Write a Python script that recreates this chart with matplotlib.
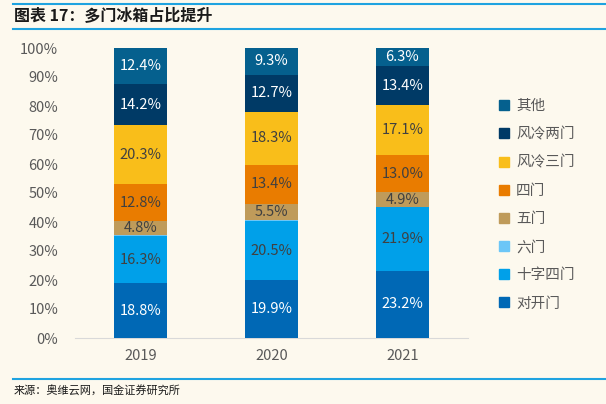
import numpy as np
import matplotlib
matplotlib.use('Agg')
from matplotlib import pyplot as plt
from matplotlib.lines import Line2D

plt.rcParams['font.family'] = ['Noto Sans CJK SC', 'DejaVu Sans']

years = ['2019', '2020', '2021']
# 从下到上
names = ['对开门', '十字四门', '六门', '五门', '四门', '风冷三门', '风冷两门', '其他']
duikai = [18.8, 19.9, 23.2]
shizi = [16.3, 20.5, 21.9]
liumen = [0.4, 0.4, 0.2]
wumen = [4.8, 5.5, 4.9]
simen = [12.8, 13.4, 13.0]
sanmen = [20.3, 18.3, 17.1]
liangmen = [14.2, 12.7, 13.4]
qita = [12.4, 9.3, 6.3]

series = [duikai, shizi, liumen, wumen, simen, sanmen, liangmen, qita]
colors = ['#0068B5', '#00A0E9', '#6CC6F7', '#BF9B5A', '#E97C00', '#F9BE1A', '#003A66', '#05608E']
txt_colors = ['white', '#404040', None, '#404040', '#404040', '#404040', 'white', 'white']

bg = '#FDF9EE'
fig = plt.figure(figsize=(6.06, 4.04), dpi=100, facecolor=bg)
ax = fig.add_axes([75/606, 1-338/404, 393/606, 290/404])
ax.set_facecolor(bg)

x = np.arange(len(years))
bottom = np.zeros(len(years))
for vals, c, tc in zip(series, colors, txt_colors):
    v = np.array(vals)
    ax.bar(x, v, 0.4, bottom=bottom, color=c, edgecolor='none', zorder=3)
    if tc is not None:
        for xi, b, h in zip(x, bottom, v):
            ax.text(xi, b + h/2, '%.1f%%' % h, ha='center', va='center',
                    color=tc, fontsize=10.5, zorder=4)
    bottom += v

ax.set_xlim(-0.5, 2.5)
ax.set_ylim(0, 100)
ax.set_yticks(np.arange(0, 101, 10))
ax.set_yticklabels(['%d%%' % t for t in range(0, 101, 10)])
ax.set_xticks(x)
ax.set_xticklabels(years)
ax.tick_params(axis='both', length=0, labelsize=10.5, labelcolor='#595959')
ax.tick_params(axis='y', pad=12)
ax.tick_params(axis='x', pad=8)
for s in ['top', 'right', 'left']:
    ax.spines[s].set_visible(False)
ax.spines['bottom'].set_color('#D9D9D9')

# legend (top to bottom)
handles = [Line2D([], [], marker='s', ls='none', color=c, markersize=7)
           for c in colors[::-1]]
leg = fig.legend(handles, names[::-1], loc='upper left',
                 bbox_to_anchor=(484/606, 1-86/404), frameon=False,
                 fontsize=10.5, labelspacing=0.97, handletextpad=0.3,
                 handlelength=1.0)
for t in leg.get_texts():
    t.set_color('#595959')

# 标题和来源
line_c = '#1FA3E0'
fig.add_artist(Line2D([13/606, 1], [1-4/404, 1-4/404], color=line_c, lw=1.5))
fig.add_artist(Line2D([13/606, 1], [1-29/404, 1-29/404], color=line_c, lw=1.5))
fig.add_artist(Line2D([13/606, 1], [1-379/404, 1-379/404], color=line_c, lw=1.5))
fig.text(14/606, 1-16.5/404, '图表 17：多门冰箱占比提升', fontsize=11.5,
         fontweight='bold', va='center', ha='left', color='#1a1a1a')
fig.text(14/606, 1-391/404, '来源：奥维云网，国金证券研究所', fontsize=8,
         va='center', ha='left', color='#1a1a1a')

fig.savefig('out.png', dpi=100, facecolor=bg)
